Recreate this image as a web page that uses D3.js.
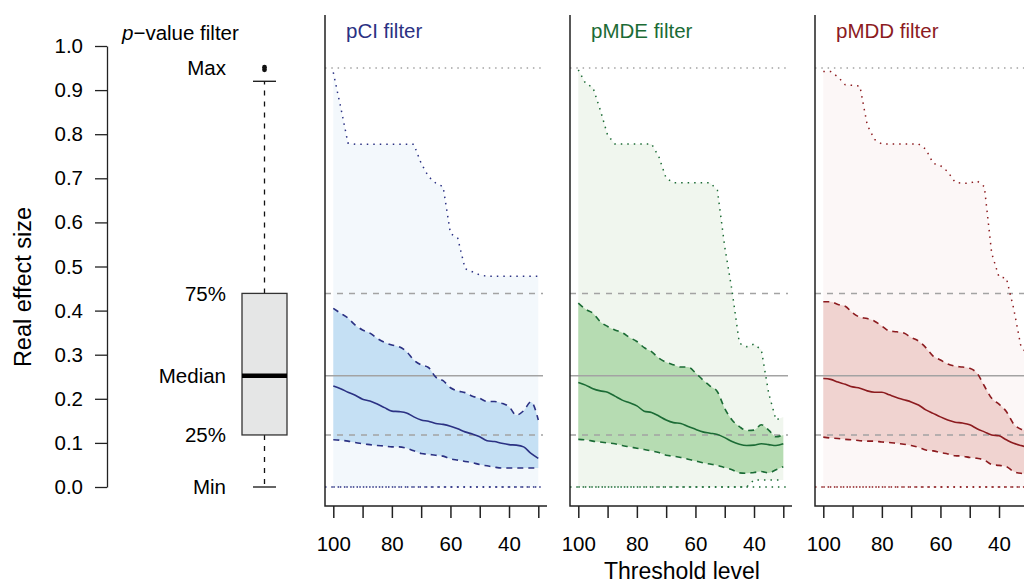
<!DOCTYPE html>
<html>
<head>
<meta charset="utf-8">
<script src="https://cdn.jsdelivr.net/npm/d3@7"></script>
<style>
  html, body { margin: 0; padding: 0; background: #fff; }
  svg { display: block; }
  text { font-family: "Liberation Sans", Arial, sans-serif; fill: #000; }
</style>
</head>
<body>
<svg id="chart" width="1024" height="585"></svg>
<script>
// ---------------- DATA ----------------
const thresholds = [100, 97.5, 95, 92.5, 90, 87.5, 85, 82.5, 80, 77.5, 75, 72.5, 70, 67.5, 65, 62.5, 60, 57.5, 55, 52.5, 50, 47.5, 45, 42.5, 40, 37.5, 35, 32.5, 30];
const xTicks = [100, 90, 80, 70, 60, 50, 40, 30];
const xTickLabels = ["100", "", "80", "", "60", "", "40", ""];
const yTicks = [0, 0.1, 0.2, 0.3, 0.4, 0.5, 0.6, 0.7, 0.8, 0.9, 1.0];

// p-value filter boxplot
const boxStats = [0, 0.118, 0.252, 0.439, 0.92];   // min, q1, median, q3, upper whisker
const boxOutliers = [0.946, 0.952];
const boxLabels = ["Min", "25%", "Median", "75%", "Max"];
const boxLabelValues = [0, 0.118, 0.252, 0.439, 0.95];

// reference lines from the p-value filter
const refMax = 0.95, refQ3 = 0.439, refMedian = 0.252, refQ1 = 0.118, refMin = 0;

const panelTitles = ["pCI filter", "pMDE filter", "pMDD filter"];

// pCI filter
const pciMax    = [0.94, 0.862, 0.78, 0.777, 0.777, 0.777, 0.777, 0.777, 0.777, 0.777, 0.777, 0.777, 0.734, 0.704, 0.689, 0.681, 0.575, 0.564, 0.495, 0.488, 0.481, 0.478, 0.478, 0.478, 0.478, 0.478, 0.478, 0.478, 0.478];
const pciUpper  = [0.405, 0.394, 0.383, 0.367, 0.356, 0.349, 0.337, 0.328, 0.322, 0.318, 0.307, 0.288, 0.277, 0.271, 0.249, 0.241, 0.225, 0.218, 0.214, 0.206, 0.201, 0.194, 0.194, 0.190, 0.182, 0.163, 0.173, 0.193, 0.152];
const pciMedian = [0.229, 0.223, 0.215, 0.208, 0.199, 0.195, 0.188, 0.180, 0.172, 0.171, 0.168, 0.159, 0.152, 0.149, 0.144, 0.142, 0.138, 0.132, 0.125, 0.120, 0.114, 0.105, 0.103, 0.099, 0.096, 0.095, 0.091, 0.076, 0.065];
const pciLower  = [0.107, 0.106, 0.104, 0.101, 0.098, 0.096, 0.094, 0.093, 0.091, 0.091, 0.088, 0.082, 0.076, 0.074, 0.072, 0.070, 0.064, 0.061, 0.058, 0.055, 0.051, 0.048, 0.045, 0.043, 0.043, 0.043, 0.043, 0.043, 0.043];
const pciMin    = [0, 0, 0, 0, 0, 0, 0, 0, 0, 0, 0, 0, 0, 0, 0, 0, 0, 0, 0, 0, 0, 0, 0, 0, 0, 0, 0, 0, 0];

// pMDE filter
const pmdeMax    = [0.946, 0.915, 0.906, 0.855, 0.798, 0.778, 0.778, 0.778, 0.778, 0.778, 0.778, 0.749, 0.700, 0.690, 0.690, 0.690, 0.690, 0.690, 0.690, 0.673, 0.545, 0.445, 0.326, 0.318, 0.324, 0.311, 0.213, 0.152, 0.159];
const pmdeUpper  = [0.417, 0.403, 0.394, 0.375, 0.364, 0.356, 0.350, 0.339, 0.330, 0.316, 0.307, 0.292, 0.283, 0.277, 0.272, 0.272, 0.259, 0.243, 0.229, 0.216, 0.178, 0.152, 0.137, 0.128, 0.129, 0.141, 0.129, 0.114, 0.118];
const pmdeMedian = [0.237, 0.231, 0.223, 0.218, 0.215, 0.206, 0.197, 0.191, 0.184, 0.172, 0.169, 0.161, 0.152, 0.146, 0.144, 0.137, 0.131, 0.125, 0.122, 0.119, 0.112, 0.103, 0.097, 0.094, 0.095, 0.098, 0.096, 0.094, 0.098];
const pmdeLower  = [0.108, 0.107, 0.104, 0.102, 0.100, 0.098, 0.094, 0.091, 0.088, 0.085, 0.082, 0.078, 0.072, 0.070, 0.067, 0.063, 0.059, 0.055, 0.052, 0.049, 0.044, 0.039, 0.032, 0.031, 0.033, 0.035, 0.032, 0.039, 0.046];
const pmdeMin    = [0, 0, 0, 0, 0, 0, 0, 0, 0, 0, 0, 0, 0, 0, 0, 0, 0, 0, 0, 0, 0, 0, 0, 0, 0.016, 0.016, 0.016, 0.016, 0.016];

// pMDD filter
const pmddMax    = [0.942, 0.942, 0.930, 0.912, 0.911, 0.909, 0.821, 0.788, 0.778, 0.778, 0.778, 0.778, 0.778, 0.778, 0.766, 0.734, 0.729, 0.715, 0.691, 0.689, 0.689, 0.694, 0.681, 0.530, 0.476, 0.474, 0.405, 0.318, 0.300];
const pmddUpper  = [0.420, 0.420, 0.414, 0.410, 0.395, 0.385, 0.382, 0.376, 0.365, 0.354, 0.352, 0.349, 0.339, 0.331, 0.316, 0.297, 0.288, 0.279, 0.274, 0.272, 0.269, 0.258, 0.229, 0.201, 0.188, 0.171, 0.143, 0.131, 0.128];
const pmddMedian = [0.246, 0.244, 0.238, 0.233, 0.227, 0.224, 0.218, 0.215, 0.215, 0.209, 0.203, 0.198, 0.193, 0.186, 0.175, 0.167, 0.159, 0.152, 0.147, 0.145, 0.141, 0.132, 0.125, 0.118, 0.116, 0.107, 0.099, 0.094, 0.090];
const pmddLower  = [0.113, 0.111, 0.110, 0.108, 0.107, 0.105, 0.104, 0.104, 0.102, 0.101, 0.099, 0.097, 0.094, 0.090, 0.084, 0.082, 0.078, 0.075, 0.071, 0.070, 0.067, 0.065, 0.061, 0.051, 0.049, 0.046, 0.035, 0.031, 0.030];
const pmddMin    = [0, 0, 0, 0, 0, 0, 0, 0, 0, 0, 0, 0, 0, 0, 0, 0, 0, 0, 0, 0, 0, 0, 0, 0, 0, 0, 0, 0, 0];

// ---------------- STYLES ----------------
const panelStyles = [
  { color: "#2b3183", outer: "#f3f8fc", inner: "#c5e0f4" },
  { color: "#1b6b35", outer: "#f0f6ee", inner: "#b6dcb2" },
  { color: "#8c1b1f", outer: "#fcf7f7", inner: "#f0d3d0" }
];
const panels = [
  { max: pciMax, upper: pciUpper, median: pciMedian, lower: pciLower, min: pciMin },
  { max: pmdeMax, upper: pmdeUpper, median: pmdeMedian, lower: pmdeLower, min: pmdeMin },
  { max: pmddMax, upper: pmddUpper, median: pmddMedian, lower: pmddLower, min: pmddMin }
];

const FS = "20.5px";
const svg = d3.select("#chart");
const y = d3.scaleLinear().domain([0, 1]).range([487, 46]);
const refGray = "#a3a3a3";

// ---------------- LEFT AXIS ----------------
const yAxis = d3.axisLeft(y).tickValues(yTicks).tickFormat(d3.format(".1f"))
  .tickSize(12).tickSizeOuter(0).tickPadding(12);
const gy = svg.append("g").attr("transform", "translate(107,0)").call(yAxis);
gy.select(".domain").attr("stroke", "#222").attr("stroke-width", 1.3);
gy.selectAll(".tick line").attr("stroke", "#222").attr("stroke-width", 1.3);
gy.selectAll(".tick text").style("font-size", FS).attr("fill", "#111")
  .style("font-family", "'Liberation Sans', Arial, sans-serif");

svg.append("text")
  .attr("transform", "translate(31,287) rotate(-90)")
  .attr("text-anchor", "middle")
  .style("font-size", "23.5px")
  .text("Real effect size");

// ---------------- BOXPLOT ----------------
const bx = 264.5, bw = 45, capW = 23;
const pTitle = svg.append("text").attr("x", 122).attr("y", 40).style("font-size", FS);
pTitle.append("tspan").style("font-style", "italic").text("p");
pTitle.append("tspan").text("\u2212value filter");

svg.append("line").attr("x1", bx).attr("x2", bx).attr("y1", y(boxStats[3])).attr("y2", y(boxStats[4]))
  .attr("stroke", "#111").attr("stroke-width", 1.3).attr("stroke-dasharray", "5,6");
svg.append("line").attr("x1", bx).attr("x2", bx).attr("y1", y(boxStats[1])).attr("y2", y(boxStats[0]))
  .attr("stroke", "#111").attr("stroke-width", 1.3).attr("stroke-dasharray", "5,6");
[boxStats[0], boxStats[4]].forEach(v => {
  svg.append("line").attr("x1", bx - capW / 2).attr("x2", bx + capW / 2).attr("y1", y(v)).attr("y2", y(v))
    .attr("stroke", "#111").attr("stroke-width", 1.3);
});
svg.append("rect").attr("x", bx - bw / 2).attr("width", bw)
  .attr("y", y(boxStats[3])).attr("height", y(boxStats[1]) - y(boxStats[3]))
  .attr("fill", "#e5e6e6").attr("stroke", "#333").attr("stroke-width", 1.3);
svg.append("line").attr("x1", bx - bw / 2).attr("x2", bx + bw / 2).attr("y1", y(boxStats[2])).attr("y2", y(boxStats[2]))
  .attr("stroke", "#000").attr("stroke-width", 4.5);
boxOutliers.forEach(v => {
  svg.append("circle").attr("cx", bx).attr("cy", y(v)).attr("r", 2.4).attr("fill", "#111");
});
boxLabels.forEach((lab, i) => {
  svg.append("text").attr("x", 226).attr("y", y(boxLabelValues[i])).attr("dy", "0.35em")
    .attr("text-anchor", "end").style("font-size", FS).text(lab);
});

// ---------------- PANELS ----------------
const panelX0 = [325, 570, 815];
panels.forEach((p, i) => {
  const x0 = panelX0[i];
  const st = panelStyles[i];
  const x = d3.scaleLinear().domain([100, 30]).range([x0 + 8.3, x0 + 213.3]);
  const g = svg.append("g");
  const pts = thresholds.map((t, k) => ({ t, max: p.max[k], upper: p.upper[k], median: p.median[k], lower: p.lower[k], min: p.min[k] }));

  // fills
  g.append("path").datum(pts)
    .attr("d", d3.area().x(d => x(d.t)).y0(d => y(d.min)).y1(d => y(d.max)))
    .attr("fill", st.outer);
  g.append("path").datum(pts)
    .attr("d", d3.area().x(d => x(d.t)).y0(d => y(d.lower)).y1(d => y(d.upper)).curve(d3.curveMonotoneX))
    .attr("fill", st.inner);

  // reference lines
  const xr1 = x0, xr2 = x0 + 218;
  const ref = (v, dash, color, w) => g.append("line").attr("x1", xr1).attr("x2", xr2)
    .attr("y1", y(v)).attr("y2", y(v)).attr("stroke", color).attr("stroke-width", w)
    .attr("stroke-dasharray", dash);
  ref(refMax, "1.5,4.8", refGray, 1.5);
  ref(refQ3, "6,6", refGray, 1.5);
  ref(refMedian, null, refGray, 1.5);
  ref(refQ1, "6,6", refGray, 1.5);
  ref(refMin, "1.5,4.8", st.color, 1.4);

  // curves
  const line = key => d3.line().x(d => x(d.t)).y(d => y(d[key]));
  g.append("path").datum(pts).attr("d", line("max")).attr("fill", "none")
    .attr("stroke", st.color).attr("stroke-width", 1.5).attr("stroke-dasharray", "1.5,5");
  g.append("path").datum(pts).attr("d", line("min")).attr("fill", "none")
    .attr("stroke", st.color).attr("stroke-width", 1.5).attr("stroke-dasharray", "1.5,5");
  g.append("path").datum(pts).attr("d", line("upper").curve(d3.curveMonotoneX)).attr("fill", "none")
    .attr("stroke", st.color).attr("stroke-width", 1.6).attr("stroke-dasharray", "6,5");
  g.append("path").datum(pts).attr("d", line("lower").curve(d3.curveMonotoneX)).attr("fill", "none")
    .attr("stroke", st.color).attr("stroke-width", 1.6).attr("stroke-dasharray", "6,5");
  g.append("path").datum(pts).attr("d", line("median").curve(d3.curveMonotoneX)).attr("fill", "none")
    .attr("stroke", st.color).attr("stroke-width", 1.6);

  // L-shaped frame
  g.append("path").attr("d", `M${x0},15V506H${x0 + 222}`).attr("fill", "none")
    .attr("stroke", "#222").attr("stroke-width", 1.5);

  // x axis ticks
  const xAxis = d3.axisBottom(x).tickValues(xTicks)
    .tickFormat((d, k) => xTickLabels[k]).tickSize(12).tickSizeOuter(0).tickPadding(18);
  const gx = g.append("g").attr("transform", "translate(0,506)").call(xAxis);
  gx.select(".domain").remove();
  gx.selectAll(".tick line").attr("stroke", "#222").attr("stroke-width", 1.5);
  gx.selectAll(".tick text").style("font-size", FS).attr("fill", "#111")
    .style("font-family", "'Liberation Sans', Arial, sans-serif");

  // title
  g.append("text").attr("x", x0 + 21).attr("y", 38).style("font-size", FS)
    .style("fill", st.color).text(panelTitles[i]);
});

svg.append("text").attr("x", 682).attr("y", 579).attr("text-anchor", "middle")
  .style("font-size", "23px").text("Threshold level");
</script>
</body>
</html>
